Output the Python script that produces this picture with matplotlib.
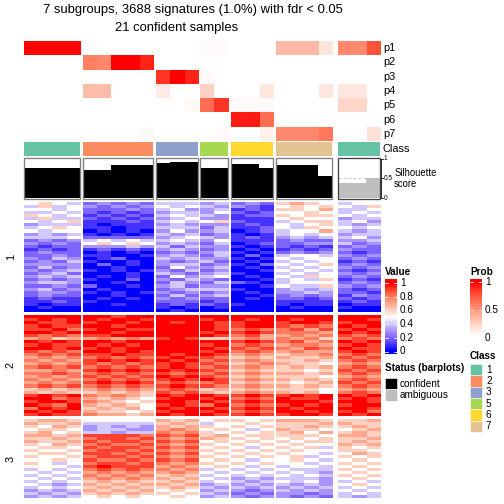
import numpy as np
import matplotlib.pyplot as plt
from matplotlib.colors import LinearSegmentedColormap
from matplotlib.patches import Rectangle

plt.rcParams['font.family'] = ['Liberation Sans', 'DejaVu Sans']

# ---- data ----
group_sizes = [4, 5, 3, 2, 3, 4, 3]
group_class = ['1', '2', '3', '5', '6', '7', '1']
group_confident = [True, True, True, True, True, True, False]

prob_names = ['p1', 'p2', 'p3', 'p4', 'p5', 'p6', 'p7']
p1 = [1, 1, 1, 1, 0, 0, 0, 0, 0, 0, 0, 0, 0.02, 0.02, 0, 0, 0, 0.33, 0.33, 0.33, 0.13, 0.55, 0.55, 0.75]
p2 = [0, 0, 0, 0, 0.58, 0.55, 1, 1, 0.9, 0, 0, 0, 0, 0, 0, 0, 0, 0, 0, 0, 0, 0, 0, 0]
p3 = [0, 0, 0, 0, 0, 0, 0, 0, 0, 0.85, 1, 0.9, 0.02, 0, 0, 0, 0, 0, 0, 0, 0, 0, 0, 0]
p4 = [0, 0, 0, 0, 0.32, 0.32, 0, 0, 0, 0.1, 0, 0, 0.22, 0, 0, 0, 0.12, 0, 0, 0, 0.12, 0.12, 0.12, 0]
p5 = [0, 0, 0, 0, 0, 0, 0, 0, 0, 0, 0, 0.03, 0.65, 0.85, 0.02, 0.02, 0.02, 0, 0, 0, 0, 0.2, 0.2, 0]
p6 = [0, 0, 0, 0, 0, 0, 0, 0, 0, 0, 0, 0, 0, 0, 0.92, 0.92, 0.65, 0, 0, 0, 0, 0, 0, 0]
p7 = [0, 0, 0, 0, 0, 0, 0, 0, 0.03, 0, 0, 0, 0, 0.03, 0, 0, 0.07, 0.55, 0.55, 0.55, 0.62, 0, 0, 0.15]

silhouette = [0.75, 0.75, 0.75, 0.75, 0.72, 0.70, 0.83, 0.83, 0.83, 0.89, 0.92, 0.92,
              0.77, 0.75, 0.87, 0.87, 0.75, 0.84, 0.84, 0.84, 0.55, 0.385, 0.385, 0.5]

class_colors = {'1': '#66C2A5', '2': '#FC8D62', '3': '#8DA0CB',
                '5': '#A6D854', '6': '#FFD92F', '7': '#E5C494'}

# signature values, one hex digit per sample (a = 1.0), in tenths
heat1 = [
    "5654 23232 444 34 232 6765 455", "4645 32323 545 43 321 5656 546",
    "5545 22232 453 34 121 6657 445", "4454 21212 344 35 212 5565 454",
    "6545 12121 454 43 122 6566 545", "4644 21212 345 33 111 5655 344",
    "5456 11121 454 56 211 4566 453", "3444 10111 343 33 121 5456 434",
    "4565 11011 444 24 112 5465 545", "5455 01010 353 34 012 4557 434",
    "3434 10101 434 23 101 4545 344", "4445 22222 345 43 121 3434 453",
    "2323 45454 454 35 111 2322 334", "3232 56565 343 24 012 2233 423",
    "2122 33343 424 33 101 2121 232", "1212 12121 343 23 010 1212 322",
    "2322 01010 232 34 101 2323 212", "2232 11001 343 24 020 4554 323",
    "3243 01200 434 33 101 5455 232", "2324 10010 323 42 010 4545 121",
    "3333 02010 344 23 102 5456 232", "2423 00100 253 34 010 4545 323",
    "3234 10101 324 23 001 5454 212", "2342 00010 432 34 100 4545 323",
    "3434 01010 253 45 010 5465 232", "2323 10020 324 32 001 4546 121",
    "3443 00100 243 24 210 4555 232", "2232 20010 342 33 001 5446 323",
    "3423 01000 234 44 100 3434 212", "2332 10101 323 23 010 3343 221",
    "2322 00100 242 34 001 2323 132", "1211 01010 323 22 010 2212 212",
    "1121 10000 222 12 000 1111 121", "1011 00100 121 21 100 1011 011",
    "0100 00000 101 01 000 0100 100", "0000 00000 010 00 000 0000 000",
]
heat2 = [
    "aaaa aa9aa aaa aa aaa aaaa aaa", "9a9a a9aa9 aaa 9a a9a a9aa aa9",
    "a99a 9aa9a a9a a9 9aa 9aa9 9aa", "9a99 aa9aa aaa a9 9aa 9898 a9a",
    "99a8 9aa99 aaa a9 898 8979 9a9", "aa9a aa9aa aaa 9a 9a9 8887 a9a",
    "9898 99aaa aaa a9 897 7878 989", "7867 78787 9a9 66 787 8786 898",
    "a9a9 aa9aa aaa aa 9a9 8978 a9a", "9a99 a9a9a aaa 9a 898 7887 9a9",
    "aa9a 9a9aa aaa a9 989 8798 a99", "9898 aa9a9 aaa 9a 898 7877 9a9",
    "8989 99a99 a9a a9 787 6778 898", "7878 89898 9a9 98 676 7667 989",
    "8787 9a9a9 a9a 89 787 6676 898", "7878 98989 9a9 98 678 7665 787",
    "8989 89898 9a9 89 787 6767 898", "7787 9a9a9 a9a 98 676 6656 989",
    "8898 89898 989 89 787 7767 898", "7878 98989 a9a 98 676 6665 787",
    "8787 89898 9a9 a9 787 7676 898", "7878 9a9a9 898 89 676 6567 989",
    "8989 89898 9a9 98 787 7676 898", "6767 78787 898 67 676 6665 787",
    "7676 67676 989 76 787 7675 898", "9a9a 87876 a9a a9 9a9 9a9a a9a",
    "aa89 76765 9aa 9a 898 a99a 9a9", "9aa9 87656 aa9 a9 9a9 aaa9 aa9",
    "a98a 76765 9a9 8a 898 9a9a 9aa", "8a9a 67675 a9a a9 9a9 a9aa aa9",
    "a9a9 76656 9aa 9a 898 aa9a 9a8", "9a99 87767 a9a a9 9a9 9aa9 a9a",
]
heat3 = [
    "6776 55555 767 56 656 7776 667", "7667 44444 676 45 565 6667 766",
    "6576 34343 767 65 656 6676 676", "5665 34433 787 56 545 7665 567",
    "6756 44344 878 65 656 6757 676", "7767 99998 989 67 566 6665 776",
    "6676 89989 878 76 656 5656 667", "7667 98998 989 56 565 6566 676",
    "6576 89889 878 65 656 5655 767", "5665 98998 989 56 545 6564 656",
    "6556 89989 878 65 656 5655 665", "5665 99898 989 56 565 6554 576",
    "6556 89989 878 65 656 5645 656", "5565 98898 989 56 545 5654 565",
    "6545 89989 878 65 656 5545 656", "5554 9a999 787 56 545 4554 565",
    "4545 89898 878 45 454 5444 656", "5454 78787 787 54 545 4543 565",
    "4545 87878 676 45 454 5454 656", "5454 78787 767 54 343 4443 565",
    "4545 67676 676 45 434 5453 454", "5434 76767 767 34 343 4343 565",
    "4545 67676 676 43 434 3434 454", "3434 76767 565 34 323 4343 545",
    "4343 67676 656 43 232 3323 454", "3434 56565 565 34 323 3232 434",
]
row_group_labels = ['1', '2', '3']


def parse(rows):
    return np.array([[int(c, 16) / 10 for c in r.replace(' ', '')] for r in rows])


heat_blocks = [parse(heat1), parse(heat2), parse(heat3)]
prob = np.array([p1, p2, p3, p4, p5, p6, p7])

value_cmap = LinearSegmentedColormap.from_list('value', [
    (0, '#0000FF'), (0.15, '#6A4DFF'), (0.3, '#A895FF'), (0.42, '#DCD2FF'),
    (0.5, '#FFFFFF'), (0.58, '#FFD9CB'), (0.7, '#FFA98F'), (0.85, '#FF6548'), (1, '#FF0000')])
prob_cmap = LinearSegmentedColormap.from_list('prob', [
    (0, '#FFFFFF'), (0.2, '#FFD6C8'), (0.4, '#FFAB93'), (0.6, '#FF7C5E'),
    (0.8, '#FF4630'), (1, '#FF0000')])

# ---- layout (pixels) ----
fig = plt.figure(figsize=(7, 7), dpi=72)
ax = fig.add_axes([0, 0, 1, 1])
ax.set_xlim(0, 504)
ax.set_ylim(504, 0)
ax.axis('off')

col_w = 14.04
gaps = [2.6, 2.6, 2.6, 2.6, 2.6, 6.0]
x_starts = []
x = 24
for i, n in enumerate(group_sizes):
    x_starts.append(x)
    x += n * col_w + (gaps[i] if i < len(gaps) else 0)

prob_top, prob_bot = 41, 141
class_top, class_bot = 142, 156
sil_top, sil_bot = 157.5, 199
heat_rows = [(202, 312), (315, 416), (419, 498)]

col0 = np.cumsum([0] + group_sizes)
for g, n in enumerate(group_sizes):
    x0 = x_starts[g]
    x1 = x0 + n * col_w
    cols = slice(col0[g], col0[g + 1])
    ax.imshow(prob[:, cols], cmap=prob_cmap, vmin=0, vmax=1, aspect='auto',
              interpolation='nearest', extent=(x0, x1, prob_bot, prob_top))
    ax.add_patch(Rectangle((x0, class_top), x1 - x0, class_bot - class_top,
                           facecolor=class_colors[group_class[g]], edgecolor='none'))
    # silhouette barplot
    h = sil_bot - sil_top - 2
    base = sil_bot - 1
    ax.plot([x0, x1], [base - 0.5 * h] * 2, color='#CCCCCC', lw=1, ls=(0, (3, 2)), zorder=2)
    bar_col = 'black' if group_confident[g] else '#BEBEBE'
    for j, s in enumerate(silhouette[cols]):
        ax.add_patch(Rectangle((x0 + j * col_w, base - s * h), col_w, s * h,
                               facecolor=bar_col, edgecolor='none', zorder=3))
    box_col = '#7F7F7F' if group_confident[g] else '#404040'
    ax.add_patch(Rectangle((x0, sil_top), x1 - x0, sil_bot - sil_top, fill=False,
                           edgecolor=box_col, lw=1.3, zorder=4))
    for data, (y0, y1) in zip(heat_blocks, heat_rows):
        ax.imshow(data[:, cols], cmap=value_cmap, vmin=0, vmax=1, aspect='auto',
                  interpolation='nearest', extent=(x0, x1, y1, y0))

right = x_starts[-1] + group_sizes[-1] * col_w
row_h = (prob_bot - prob_top) / len(prob_names)
for i, name in enumerate(prob_names):
    ax.text(right + 3, prob_top + (i + 0.5) * row_h, name, fontsize=11, va='center', ha='left')
ax.text(right + 3, (class_top + class_bot) / 2, 'Class', fontsize=11, va='center', ha='left')

# silhouette axis
h = sil_bot - sil_top - 2
base = sil_bot - 1
ax.plot([right + 1, right + 1], [base, base - h], color='black', lw=0.8)
for v, lab in [(0, '0'), (0.5, '0.5'), (1, '1')]:
    yy = base - v * h
    ax.plot([right + 1, right + 3], [yy, yy], color='black', lw=0.8)
    ax.text(right + 4, yy, lab, fontsize=6.5, va='center', ha='left')
ax.text(right + 15, 173, 'Silhouette', fontsize=9.5, va='center', ha='left')
ax.text(right + 14, 184, 'score', fontsize=9.5, va='center', ha='left')

# row group labels
for lab, (y0, y1) in zip(row_group_labels, heat_rows):
    ax.text(11, (y0 + y1) / 2, lab, fontsize=11, rotation=90, va='center', ha='center')

# title
ax.text(193, 10, '7 subgroups, 3688 signatures (1.0%) with fdr < 0.05', fontsize=13,
        ha='center', va='center')
ax.text(177, 28, '21 confident samples', fontsize=13, ha='center', va='center')

# ---- legends ----
# Value
ax.text(385, 272, 'Value', fontsize=10, fontweight='bold', va='center', ha='left')
grad = np.linspace(1.058, -0.036, 100).reshape(-1, 1)
ax.imshow(grad, cmap=value_cmap, vmin=0, vmax=1, aspect='auto',
          extent=(385, 397, 354, 279))
for v in [0, 0.2, 0.4, 0.6, 0.8, 1]:
    yy = 351.5 - v * 68.5
    ax.plot([385, 388], [yy, yy], color='white', lw=0.8)
    ax.plot([394, 397], [yy, yy], color='white', lw=0.8)
    ax.text(400, yy, f'{v:g}', fontsize=10, va='center', ha='left')

# Prob
ax.text(470, 272, 'Prob', fontsize=10, fontweight='bold', va='center', ha='left')
grad = np.linspace(1.05, -0.02, 100).reshape(-1, 1)
ax.imshow(grad, cmap=prob_cmap, vmin=0, vmax=1, aspect='auto',
          extent=(470, 482, 337, 279))
for v, lab in [(0, '0'), (0.5, '0.5'), (1, '1')]:
    yy = 338 - v * 56
    ax.plot([470, 473], [yy, yy], color='white', lw=0.8)
    ax.plot([479, 482], [yy, yy], color='white', lw=0.8)
    ax.text(485, yy, lab, fontsize=10, va='center', ha='left')

# Class
ax.text(470, 356, 'Class', fontsize=10, fontweight='bold', va='center', ha='left')
for i, c in enumerate(['1', '2', '3', '5', '6', '7']):
    yy = 364 + i * 11.3
    ax.add_patch(Rectangle((470, yy), 12, 11.3, facecolor=class_colors[c],
                           edgecolor='white', lw=0.5))
    ax.text(486, yy + 5.8, c, fontsize=10, va='center', ha='left')

# Status
ax.text(385, 368, 'Status (barplots)', fontsize=10, fontweight='bold', va='center', ha='left')
for i, (lab, col) in enumerate([('confident', 'black'), ('ambiguous', '#BEBEBE')]):
    yy = 378 + i * 11.3
    ax.add_patch(Rectangle((385, yy), 12, 11.3, facecolor=col, edgecolor='white', lw=0.5))
    ax.text(400, yy + 5.8, lab, fontsize=10, va='center', ha='left')

fig.savefig('out.png', dpi=72)
